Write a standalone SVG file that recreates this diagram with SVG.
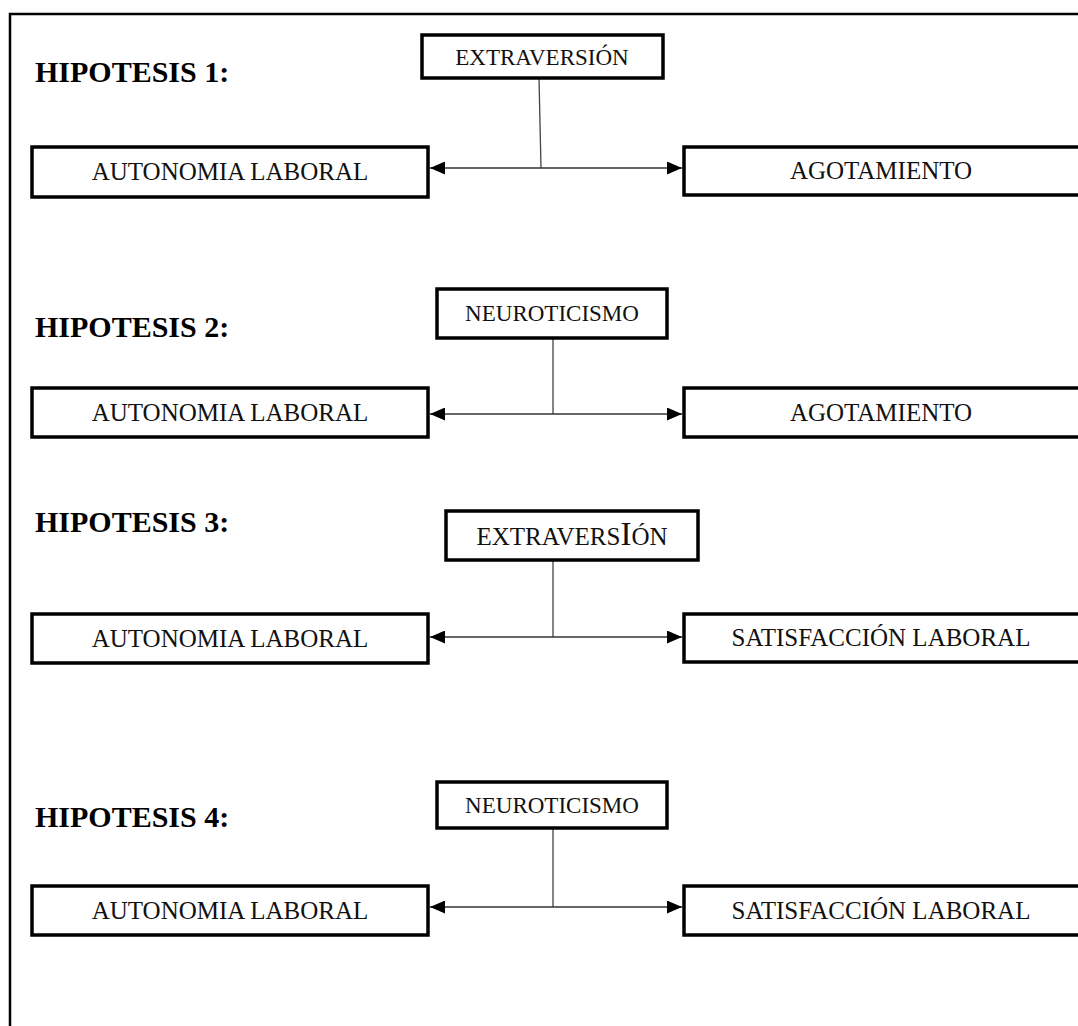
<svg xmlns="http://www.w3.org/2000/svg" width="1078" height="1026" viewBox="0 0 1078 1026">
<style>
.frame{fill:none;stroke:#000;stroke-width:2.5}
.box{fill:#fff;stroke:#000;stroke-width:3.5}
.lbl{font-family:"Liberation Serif","Times New Roman",serif;font-size:25px;fill:#111;text-anchor:middle}
.sm{font-size:23px}
.hyp{font-family:"Liberation Serif","Times New Roman",serif;font-size:30px;font-weight:bold;fill:#000}
.con{stroke:#444;stroke-width:1.3;fill:none}
.arr{stroke:#333;stroke-width:1.5;fill:none;marker-start:url(#ah);marker-end:url(#ah)}
</style>
<defs>
<marker id="ah" viewBox="0 0 15 13" refX="15" refY="6.5" markerWidth="15" markerHeight="13" markerUnits="userSpaceOnUse" orient="auto-start-reverse">
<path d="M0,0 L15,6.5 L0,13 z" fill="#000"/>
</marker>
</defs>
<rect width="1078" height="1026" fill="#fff"/>
<path class="frame" d="M10,1030 L10,14 L1082,14"/>

<text class="hyp" x="35" y="82">HIPOTESIS 1:</text>
<text class="hyp" x="35" y="337">HIPOTESIS 2:</text>
<text class="hyp" x="35" y="532">HIPOTESIS 3:</text>
<text class="hyp" x="35" y="827">HIPOTESIS 4:</text>

<g id="connectors">
<line class="con" x1="539" y1="78" x2="541" y2="168"/>
<line class="arr" x1="430" y1="168" x2="682" y2="168"/>
<line class="con" x1="553" y1="338" x2="553" y2="414"/>
<line class="arr" x1="430" y1="414" x2="682" y2="414"/>
<line class="con" x1="553" y1="560" x2="553" y2="637"/>
<line class="arr" x1="430" y1="637" x2="682" y2="637"/>
<line class="con" x1="553" y1="828" x2="553" y2="907"/>
<line class="arr" x1="430" y1="907" x2="682" y2="907"/>
</g>

<g id="h1-extraversion"><rect class="box" x="422" y="35" width="241" height="43"/><text class="lbl sm" x="542" y="65">EXTRAVERSIÓN</text></g>
<g id="h1-autonomia"><rect class="box" x="32" y="147" width="396" height="50"/><text class="lbl" x="230" y="180">AUTONOMIA LABORAL</text></g>
<g id="h1-agotamiento"><rect class="box" x="684" y="147" width="400" height="48"/><text class="lbl" x="881" y="179">AGOTAMIENTO</text></g>

<g id="h2-neuroticismo"><rect class="box" x="437" y="289" width="230" height="49"/><text class="lbl sm" x="552" y="321">NEUROTICISMO</text></g>
<g id="h2-autonomia"><rect class="box" x="32" y="388" width="396" height="49"/><text class="lbl" x="230" y="421">AUTONOMIA LABORAL</text></g>
<g id="h2-agotamiento"><rect class="box" x="684" y="388" width="400" height="49"/><text class="lbl" x="881" y="421">AGOTAMIENTO</text></g>

<g id="h3-extraversion"><rect class="box" x="446" y="511" width="252" height="49"/><text class="lbl" x="572" y="545">EXTRAVERS<tspan font-size="33">I</tspan>ÓN</text></g>
<g id="h3-autonomia"><rect class="box" x="32" y="614" width="396" height="49"/><text class="lbl" x="230" y="647">AUTONOMIA LABORAL</text></g>
<g id="h3-satisfaccion"><rect class="box" x="684" y="614" width="400" height="48"/><text class="lbl" x="881" y="646">SATISFACCIÓN LABORAL</text></g>

<g id="h4-neuroticismo"><rect class="box" x="437" y="782" width="230" height="46"/><text class="lbl sm" x="552" y="813">NEUROTICISMO</text></g>
<g id="h4-autonomia"><rect class="box" x="32" y="886" width="396" height="49"/><text class="lbl" x="230" y="919">AUTONOMIA LABORAL</text></g>
<g id="h4-satisfaccion"><rect class="box" x="684" y="886" width="400" height="49"/><text class="lbl" x="881" y="919">SATISFACCIÓN LABORAL</text></g>
</svg>
